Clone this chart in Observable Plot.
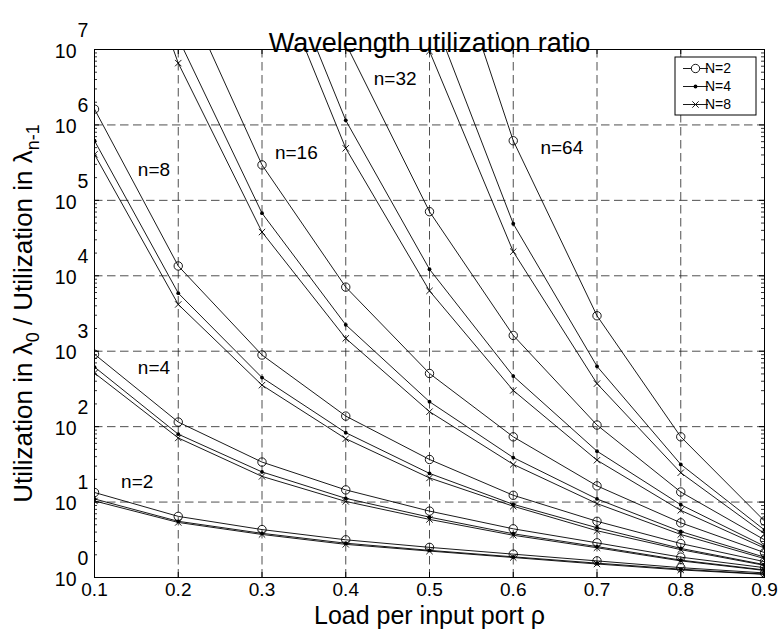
<!DOCTYPE html>
<html><head><meta charset="utf-8">
<script src="https://cdn.jsdelivr.net/npm/d3@7"></script>
<script src="https://cdn.jsdelivr.net/npm/@observablehq/plot@0.6"></script>
<style>
body{margin:0;background:#fff}
#chart{position:relative;width:782px;height:641px}
svg text{font-family:"Liberation Sans",Arial,Helvetica,sans-serif}
</style>
</head><body><div id="chart"></div>
<script>
// ---- data ----
const loads = [0.1, 0.2, 0.3, 0.4, 0.5, 0.6, 0.7, 0.8, 0.9];
const xTickLabels = ["0.1", "0.2", "0.3", "0.4", "0.5", "0.6", "0.7", "0.8", "0.9"];
const yTickValues = [1, 10, 100, 1e3, 1e4, 1e5, 1e6, 1e7];
const yTickExponents = ["0", "1", "2", "3", "4", "5", "6", "7"];

// n = 2
const n2_N2 = [13.4, 6.46, 4.32, 3.16, 2.51, 2.04, 1.66, 1.35, 1.15];
const n2_N4 = [11.0, 5.56, 3.85, 2.85, 2.29, 1.88, 1.55, 1.29, 1.11];
const n2_N8 = [10.35, 5.37, 3.72, 2.75, 2.24, 1.84, 1.51, 1.26, 1.10];
// n = 4
const n4_N2 = [912, 115, 33.9, 14.5, 7.59, 4.42, 2.88, 1.86, 1.35];
const n4_N4 = [617, 79.4, 25.1, 11.2, 6.31, 3.80, 2.57, 1.70, 1.26];
const n4_N8 = [513, 70.8, 21.9, 10.2, 5.89, 3.63, 2.48, 1.66, 1.24];
// n = 8
const n8_N2 = [1.62e6, 13490, 891, 138, 36.7, 12.3, 5.56, 2.82, 1.62];
const n8_N4 = [6.17e5, 5890, 447, 83.2, 24.0, 9.33, 4.57, 2.43, 1.48];
const n8_N8 = [4.07e5, 4170, 355, 69.2, 20.9, 8.81, 4.17, 2.34, 1.45];
// n = 16
const n16_N2 = [1.6e11, 8.3e7, 2.95e5, 7080, 507, 73.3, 16.4, 5.31, 2.14];
const n16_N4 = [2e10, 1.41e7, 67600, 2240, 214, 38.9, 11.0, 4.07, 1.86];
const n16_N8 = [7.9e9, 6.6e6, 38000, 1480, 158, 31.6, 9.55, 3.72, 1.78];
// n = 32
const n32_N2 = [3e16, 3e12, 4e9, 1.2e7, 70800, 1620, 105, 13.6, 3.16];
const n32_N4 = [1e15, 3e11, 6.2e8, 1.15e6, 12200, 468, 47.3, 9.23, 2.60];
const n32_N8 = [3e14, 1.3e11, 2.6e8, 4.9e5, 6310, 302, 35.9, 7.76, 2.45];
// n = 64
const n64_N2 = [1e24, 1e19, 1e15, 1e12, 1.35e9, 6.17e5, 2950, 73.3, 5.62];
const n64_N4 = [1e22, 1e17, 3e13, 2.5e10, 3.7e7, 49000, 631, 31.6, 4.27];
const n64_N8 = [1e21, 3e16, 1e13, 7.9e9, 9.5e6, 20900, 372, 24.5, 3.80];

// curve annotations
const curveLabels = ["n=2", "n=4", "n=8", "n=16", "n=32", "n=64"];
const curveLabelX = [0.151, 0.171, 0.171, 0.341, 0.459, 0.658];
const curveLabelY = [18.5, 597, 2.5e5, 4.2e5, 4.07e6, 4.9e5];

const legendLabels = ["N=2", "N=4", "N=8"];

// ---- tidy table ----
const seriesTable = [
  [2, 2, n2_N2], [2, 4, n2_N4], [2, 8, n2_N8],
  [4, 2, n4_N2], [4, 4, n4_N4], [4, 8, n4_N8],
  [8, 2, n8_N2], [8, 4, n8_N4], [8, 8, n8_N8],
  [16, 2, n16_N2], [16, 4, n16_N4], [16, 8, n16_N8],
  [32, 2, n32_N2], [32, 4, n32_N4], [32, 8, n32_N8],
  [64, 2, n64_N2], [64, 4, n64_N4], [64, 8, n64_N8]
];
const rows = [];
for (const [n, N, vals] of seriesTable) {
  vals.forEach((v, i) => rows.push({load: loads[i], ratio: v, n, N, key: n + "-" + N}));
}
const labelRows = curveLabels.map((t, i) => ({t, x: curveLabelX[i], y: curveLabelY[i]}));

const yMinor = [];
for (let k = 0; k < 7; k++) for (let m = 2; m <= 9; m++) yMinor.push(m * Math.pow(10, k));

const W = 782, H = 641, mL = 94, mR = 18, mT = 49, mB = 64;
const pW = W - mL - mR, pH = H - mT - mB;
const gridStyle = {stroke: "#222", strokeWidth: 0.8, strokeDasharray: "8.5,4.5"};

const chart = Plot.plot({
  width: W, height: H,
  marginLeft: mL, marginRight: mR, marginTop: mT, marginBottom: mB,
  style: {fontFamily: '"Liberation Sans", Arial, sans-serif', background: "white"},
  x: {domain: [0.1, 0.9], axis: null},
  y: {type: "log", domain: [1, 1e7], axis: null},
  marks: [
    // grid
    Plot.ruleX(loads.slice(1, -1), {x: d => d, ...gridStyle}),
    Plot.ruleY(yTickValues.slice(1, -1), {y: d => d, ...gridStyle}),
    // inward ticks
    Plot.ruleY(yMinor, {y: d => d, insetRight: pW - 3, stroke: "black", strokeWidth: 0.8}),
    Plot.ruleY(yMinor, {y: d => d, insetLeft: pW - 3, stroke: "black", strokeWidth: 0.8}),
    Plot.ruleY(yTickValues, {y: d => d, insetRight: pW - 5, stroke: "black"}),
    Plot.ruleY(yTickValues, {y: d => d, insetLeft: pW - 5, stroke: "black"}),
    Plot.ruleX(loads, {x: d => d, insetTop: pH - 5, stroke: "black"}),
    Plot.ruleX(loads, {x: d => d, insetBottom: pH - 5, stroke: "black"}),
    // curves
    Plot.line(rows, {x: "load", y: "ratio", z: "key", stroke: "black", strokeWidth: 0.9, clip: true}),
    Plot.dot(rows.filter(d => d.N === 2), {x: "load", y: "ratio", r: 4.2, stroke: "black", fill: "white", fillOpacity: 0, strokeWidth: 0.9, clip: true}),
    Plot.dot(rows.filter(d => d.N === 4), {x: "load", y: "ratio", r: 1.9, fill: "black", stroke: "none", clip: true}),
    Plot.dot(rows.filter(d => d.N === 8), {x: "load", y: "ratio", r: 3, symbol: "times", stroke: "black", strokeWidth: 0.9, clip: true}),
    // frame
    Plot.frame({stroke: "black", strokeWidth: 1}),
    // curve labels
    Plot.text(labelRows, {x: "x", y: "y", text: "t", fontSize: 19, fill: "black"}),
    // x tick labels
    Plot.text(loads, {x: d => d, text: (d, i) => xTickLabels[i], frameAnchor: "bottom", dy: 18, fontSize: 19, fill: "black"}),
    // y tick labels (10 with raised exponent)
    Plot.text(yTickValues, {y: d => d, text: () => "10", frameAnchor: "left", textAnchor: "end", dx: -18, dy: 2, fontSize: 19.5, fill: "black"}),
    Plot.text(yTickValues, {y: d => d, text: (d, i) => yTickExponents[i], frameAnchor: "left", textAnchor: "start", dx: -17, dy: -19, fontSize: 19.5, fill: "black"}),
    // titles
    Plot.text(["Wavelength utilization ratio"], {frameAnchor: "top", dy: -17, fontSize: 27, fill: "black"}),
    Plot.text(["Load per input port \u03c1"], {frameAnchor: "bottom", dy: 46, fontSize: 25, fill: "black"}),
    Plot.text(["YLABEL"], {frameAnchor: "left", dx: -70.5, rotate: -90, fontSize: 26, fill: "black"})
  ]
});
document.getElementById("chart").appendChild(chart);

// rebuild the y label with real subscripts
const svg = d3.select(chart);
svg.selectAll("text").filter(function () { return this.textContent === "YLABEL"; }).each(function () {
  const t = d3.select(this);
  t.text(null).attr("text-anchor", "middle");
  t.append("tspan").text("Utilization in \u03bb");
  t.append("tspan").attr("dy", 7).attr("font-size", 18).text("0");
  t.append("tspan").attr("dy", -7).text(" / Utilization in \u03bb");
  t.append("tspan").attr("dy", 7).attr("font-size", 18).text("n-1");
});

// legend
const lg = svg.append("g").attr("transform", "translate(675,57)");
lg.append("rect").attr("width", 81).attr("height", 58).attr("fill", "white").attr("stroke", "black").attr("stroke-width", 1);
legendLabels.forEach((lab, i) => {
  const y = 11.5 + i * 18;
  lg.append("line").attr("x1", 8).attr("x2", 33).attr("y1", y).attr("y2", y).attr("stroke", "black").attr("stroke-width", 0.9);
  if (i === 0) lg.append("circle").attr("cx", 20.5).attr("cy", y).attr("r", 4.2).attr("fill", "white").attr("stroke", "black").attr("stroke-width", 0.9);
  if (i === 1) lg.append("circle").attr("cx", 20.5).attr("cy", y).attr("r", 1.9).attr("fill", "black");
  if (i === 2) lg.append("path").attr("d", d3.symbol(d3.symbolTimes, 28)()).attr("transform", `translate(20.5,${y})`).attr("stroke", "black").attr("stroke-width", 0.9).attr("fill", "none");
  lg.append("text").attr("x", 43).attr("y", y).attr("dy", "0.35em").attr("font-size", 14).attr("fill", "black").text(lab);
});
</script>
</body></html>
